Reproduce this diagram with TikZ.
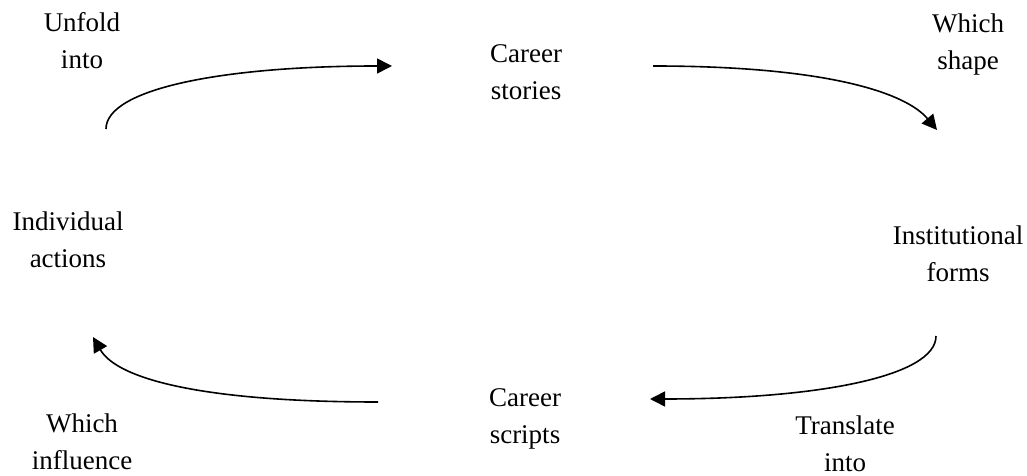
\documentclass[tikz,border=0pt]{standalone}
\usepackage{fontspec}
\setmainfont{Liberation Serif}
\usetikzlibrary{arrows.meta}
\begin{document}
\begin{tikzpicture}[x=1pt, y=1pt,
    every node/.style={align=center, inner sep=0pt, anchor=base, font=\fontsize{27}{37.5}\selectfont},
    flow/.style={line width=1.6pt, -{Triangle[length=15pt, width=15pt]}}]
      \useasboundingbox (0,0) rectangle (1027,476);
      % labels (base = last line)
      \node (stories) at (526,376) {Career\\stories};
      \node (forms) at (958,194) {Institutional\\forms};
      \node (scripts) at (525,32) {Career\\scripts};
      \node (actions) at (68,208) {Individual\\actions};
      \node (unfold) at (82,407) {Unfold\\into};
      \node (shape) at (968,406) {Which\\shape};
      \node (translate) at (845,4) {Translate\\into};
      \node (influence) at (82,6) {Which\\influence};
      % arrow ends
      \coordinate (a1) at (106,347);
      \coordinate (b1) at (392,410);
      \coordinate (a2) at (653,410);
      \coordinate (b2) at (937,346);
      \coordinate (a3) at (936,140);
      \coordinate (b3) at (650,77);
      \coordinate (a4) at (378,74);
      \coordinate (b4) at (93,139);
      \foreach \source/\dest/\o/\i/\od/\id in {a1/b1/90/180/40/170, a2/b2/0/130/170/50, a3/b3/-90/0/40/170, a4/b4/180/-60/170/50}
        \draw[flow] (\source) to[out=\o, in=\i, out distance=\od, in distance=\id] (\dest);
\end{tikzpicture}
\end{document}
